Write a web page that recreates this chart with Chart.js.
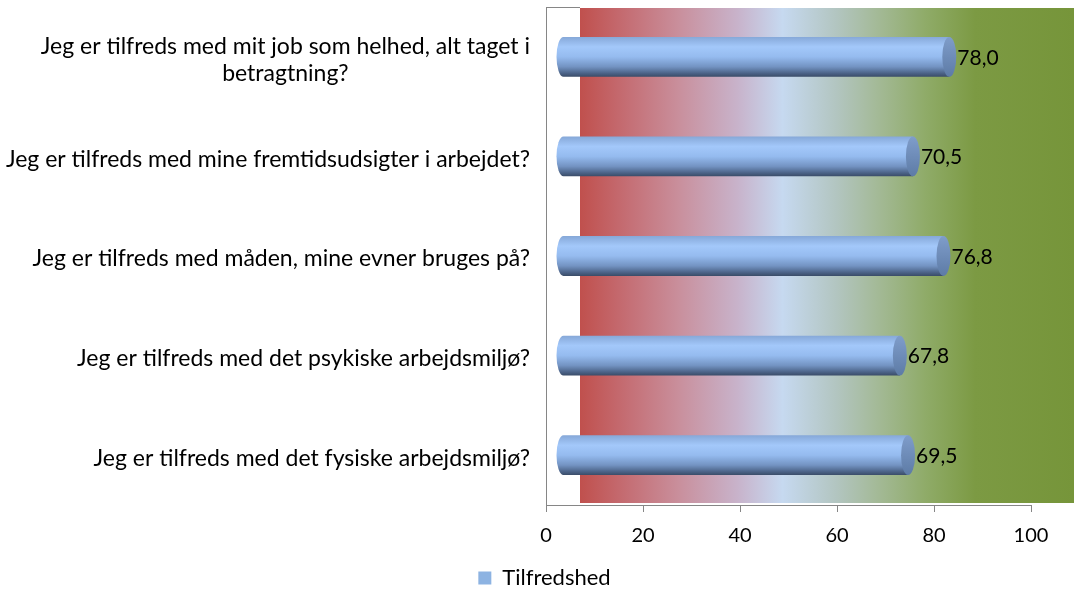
<!DOCTYPE html>
<html>
<head>
<meta charset="utf-8">
<script src="https://cdn.jsdelivr.net/npm/chart.js@4.4.0/dist/chart.umd.min.js"></script>
<style>
  html, body { margin: 0; padding: 0; background: #fff; }
  #wrap { position: relative; width: 1074px; height: 592px; }
</style>
</head>
<body>
<div id="wrap"><canvas id="chart"></canvas></div>
<script>
'use strict'

// data
const questions = [
  ['Jeg er tilfreds med mit job som helhed, alt taget i', 'betragtning?'],
  'Jeg er tilfreds med mine fremtidsudsigter i arbejdet?',
  'Jeg er tilfreds med måden, mine evner bruges på?',
  'Jeg er tilfreds med det psykiske arbejdsmiljø?',
  'Jeg er tilfreds med det fysiske arbejdsmiljø?'
]
const tilfredshed = [78.0, 70.5, 76.8, 67.8, 69.5]
const xTicks = [0, 20, 40, 60, 80, 100]
const seriesName = 'Tilfredshed'

const FONT = 'Lato'
const GREY = '#868686'

// back wall with the red -> blue -> green gradient
const wall = {
  id: 'wall',
  beforeDraw(chart) {
    const ctx = chart.ctx
    const area = chart.chartArea
    const x0 = chart.scales.x.getPixelForValue(0) + 34
    const x1 = chart.width
    const g = ctx.createLinearGradient(x0, 0, x1, 0)
    g.addColorStop(0, '#c0504d')
    g.addColorStop(0.08, '#c4696e')
    g.addColorStop(0.2, '#c98f9c')
    g.addColorStop(0.32, '#c8b3cb')
    g.addColorStop(0.41, '#c6d9f0')
    g.addColorStop(0.52, '#b2c5c0')
    g.addColorStop(0.6, '#a4ba98')
    g.addColorStop(0.7, '#8fab68')
    g.addColorStop(0.8, '#7c9a43')
    g.addColorStop(1, '#76953a')
    ctx.save()
    ctx.fillStyle = g
    ctx.fillRect(x0, area.top + 1, x1 - x0, area.bottom - area.top - 3)
    ctx.strokeStyle = GREY
    ctx.lineWidth = 1
    ctx.beginPath()
    ctx.moveTo(area.left, area.top + 0.5)
    ctx.lineTo(x0, area.top + 0.5)
    ctx.stroke()
    ctx.restore()
  }
}

// 3d cylinders instead of flat bars
const cylinders = {
  id: 'cylinders',
  beforeDatasetDraw() { return false },
  afterDatasetsDraw(chart) {
    const ctx = chart.ctx
    const meta = chart.getDatasetMeta(0)
    ctx.save()
    meta.data.forEach((bar, i) => {
      const ry = bar.height / 2
      const rx = 7
      const top = bar.y - ry
      const bottom = bar.y + ry
      const x0 = bar.base + 17
      const x1 = bar.x + 25

      const body = ctx.createLinearGradient(0, top, 0, bottom)
      body.addColorStop(0, '#86a8d8')
      body.addColorStop(0.25, '#a3c8fa')
      body.addColorStop(0.5, '#95bbef')
      body.addColorStop(0.75, '#7393c2')
      body.addColorStop(0.92, '#4a6185')
      body.addColorStop(1, '#3a4c68')
      ctx.fillStyle = body
      ctx.beginPath()
      ctx.moveTo(x0, top)
      ctx.lineTo(x1, top)
      ctx.lineTo(x1, bottom)
      ctx.lineTo(x0, bottom)
      ctx.ellipse(x0, bar.y, rx, ry, 0, Math.PI / 2, Math.PI * 1.5)
      ctx.closePath()
      ctx.fill()

      const cap = ctx.createLinearGradient(0, top, 0, bottom)
      cap.addColorStop(0, '#7f9dca')
      cap.addColorStop(1, '#5d7ba6')
      ctx.fillStyle = cap
      ctx.beginPath()
      ctx.ellipse(x1, bar.y, rx, ry, 0, 0, Math.PI * 2)
      ctx.fill()

      ctx.fillStyle = '#000'
      ctx.font = '21px ' + FONT
      ctx.textAlign = 'left'
      ctx.textBaseline = 'middle'
      ctx.fillText(tilfredshed[i].toFixed(1).replace('.', ','), x1 + rx + 1, bar.y + 1)
    })
    ctx.restore()
  }
}

// category labels, right aligned block, lines centred inside it
const questionLabels = {
  id: 'questionLabels',
  afterDraw(chart) {
    const ctx = chart.ctx
    const y = chart.scales.y
    ctx.save()
    ctx.font = '23px ' + FONT
    ctx.fillStyle = '#000'
    ctx.textAlign = 'center'
    ctx.textBaseline = 'middle'
    questions.forEach((q, i) => {
      const lines = Array.isArray(q) ? q : [q]
      const w = Math.max(...lines.map(l => ctx.measureText(l).width))
      const cx = y.right - 16 - w / 2
      const cy = y.getPixelForValue(i) + 3
      lines.forEach((l, j) => {
        ctx.fillText(l, cx, cy + (j - (lines.length - 1) / 2) * 27)
      })
    })
    ctx.restore()
  }
}

// legend sits a bit right of the canvas centre in the original
const legendShift = {
  id: 'legendShift',
  afterLayout(chart) {
    chart.legend.left += 29
    chart.legend.right += 29
  }
}

new Chart(document.getElementById('chart'), {
  type: 'bar',
  data: {
    labels: questions,
    datasets: [{
      label: seriesName,
      data: tilfredshed,
      backgroundColor: '#8db3e2',
      borderWidth: 0,
      barPercentage: 0.5,
      categoryPercentage: 0.8
    }]
  },
  options: {
    indexAxis: 'y',
    responsive: true,
    maintainAspectRatio: false,
    animation: false,
    layout: { padding: { top: 7, right: 43, bottom: -7, left: 0 } },
    scales: {
      x: {
        min: 0,
        max: 100,
        afterBuildTicks: s => { s.ticks = xTicks.map(v => ({ value: v })) },
        afterFit: s => { s.height = 58 },
        grid: { drawOnChartArea: false, drawTicks: true, tickLength: 7, color: GREY },
        border: { display: true, color: GREY },
        ticks: { padding: 12, color: '#000', font: { family: FONT, size: 20 } }
      },
      y: {
        afterFit: s => { s.width = 546 },
        grid: { display: false },
        border: { display: true, color: GREY },
        ticks: { display: false }
      }
    },
    plugins: {
      legend: {
        position: 'bottom',
        labels: {
          boxWidth: 13,
          boxHeight: 13,
          padding: 4,
          color: '#000',
          font: { family: FONT, size: 22 }
        }
      },
      tooltip: { enabled: false }
    }
  },
  plugins: [wall, cylinders, questionLabels, legendShift]
})
</script>
</body>
</html>
